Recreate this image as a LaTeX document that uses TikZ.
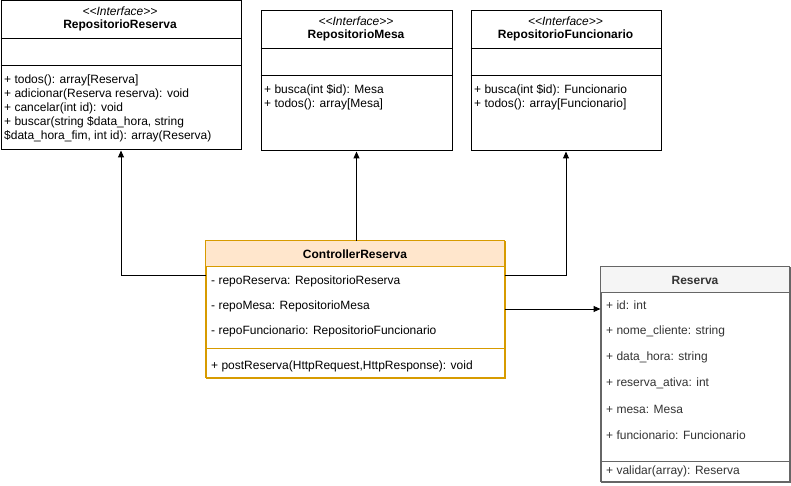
\documentclass[tikz,border=0pt]{standalone}
\usepackage{fontspec}
\setmainfont{Liberation Sans}
\usetikzlibrary{arrows.meta}
\definecolor{ctrlfill}{HTML}{FFE6CC}
\definecolor{ctrldraw}{HTML}{D79B00}
\definecolor{resfill}{HTML}{F5F5F5}
\definecolor{resdraw}{HTML}{666666}
\definecolor{restext}{HTML}{333333}
\tikzset{
  umlbox/.style={draw=black, line width=1pt, anchor=north west, inner sep=0pt, fill=white},
  member/.style={anchor=west, inner sep=0pt, font=\fontsize{12}{14.2}\selectfont, align=left},
  title/.style={anchor=center, inner sep=0pt, font=\bfseries\fontsize{12}{14}\selectfont},
  stereo/.style={anchor=center, inner sep=0pt, font=\itshape\fontsize{12}{14}\selectfont},
  divider/.style={line width=1pt},
  arr/.style={line width=1pt, -{Triangle[length=7pt,width=6pt]}},
}
\begin{document}
\begin{tikzpicture}[x=1pt,y=-1pt]
\useasboundingbox (0,0) rectangle (791,486);
\fill[white] (0,0) rectangle (791,486);

% RepositorioReserva
\node[umlbox, minimum width=240pt, minimum height=149pt] (rr) at (0.5,0.5) {};
\draw[divider] (0.5,39) -- (240.5,39);
\draw[divider] (0.5,66) -- (240.5,66);
\node[stereo] (rrs) at (120,11) {<\kern0pt<Interface>\kern0pt>};
\node[title] (rrt) at (120,25) {RepositorioReserva};
\node[member] (rrm1) at (4,80) {+ todos(): array[Reserva]};
\node[member] (rrm2) at (4,94.2) {+ adicionar(Reserva reserva): void};
\node[member] (rrm3) at (4,108.4) {+ cancelar(int id): void};
\node[member] (rrm4) at (4,122.6) {+ buscar(string \$data\_hora, string};
\node[member] (rrm5) at (4,136.8) {\$data\_hora\_fim, int id): array(Reserva)};

% RepositorioMesa
\node[umlbox, minimum width=191pt, minimum height=140pt] (rm) at (260.5,10.5) {};
\draw[divider] (260.5,49) -- (451.5,49);
\draw[divider] (260.5,76) -- (451.5,76);
\node[stereo] (rms) at (356,21) {<\kern0pt<Interface>\kern0pt>};
\node[title] (rmt) at (356,35) {RepositorioMesa};
\node[member] (rmm1) at (264,90) {+ busca(int \$id): Mesa};
\node[member] (rmm2) at (264,104.2) {+ todos(): array[Mesa]};

% RepositorioFuncionario
\node[umlbox, minimum width=190pt, minimum height=140pt] (rf) at (470.5,10.5) {};
\draw[divider] (470.5,49) -- (660.5,49);
\draw[divider] (470.5,76) -- (660.5,76);
\node[stereo] (rfs) at (565.5,21) {<\kern0pt<Interface>\kern0pt>};
\node[title] (rft) at (565.5,35) {RepositorioFuncionario};
\node[member] (rfm1) at (474,90) {+ busca(int \$id): Funcionario};
\node[member] (rfm2) at (474,104.2) {+ todos(): array[Funcionario]};

% ControllerReserva
\node[umlbox, draw=ctrldraw, minimum width=299pt, minimum height=137pt] (ctrl) at (205.5,240.5) {};
\fill[ctrlfill] (205.5,240.5) rectangle (504.5,266);
\draw[ctrldraw, line width=1pt] (205.5,240.5) rectangle (504.5,377.5);
\draw[divider, ctrldraw] (205.5,266) -- (504.5,266);
\draw[divider, ctrldraw] (205.5,348) -- (504.5,348);
\node[title] (ctt) at (355,254) {ControllerReserva};
\node[member] (cta1) at (211,281) {- repoReserva: RepositorioReserva};
\node[member] (cta2) at (211,306) {- repoMesa: RepositorioMesa};
\node[member] (cta3) at (211,331) {- repoFuncionario: RepositorioFuncionario};
\node[member] (ctm1) at (211,366) {+ postReserva(HttpRequest,HttpResponse): void};

% Reserva
\node[umlbox, draw=resdraw, minimum width=189pt, minimum height=215pt] (res) at (600.5,266.5) {};
\fill[resfill] (600.5,266.5) rectangle (789.5,292);
\draw[resdraw, line width=1pt] (600.5,266.5) rectangle (789.5,481.5);
\draw[divider, resdraw] (600.5,292) -- (789.5,292);
\draw[divider, resdraw] (600.5,461) -- (789.5,461);
\node[title, text=restext] (rest) at (695,280) {Reserva};
\begin{scope}[every node/.append style={text=restext}]
\node[member] (resa1) at (606,305) {+ id: int};
\node[member] (resa2) at (606,331) {+ nome\_cliente: string};
\node[member] (resa3) at (606,357) {+ data\_hora: string};
\node[member] (resa4) at (606,383) {+ reserva\_ativa: int};
\node[member] (resa5) at (606,409) {+ mesa: Mesa};
\node[member] (resa6) at (606,435) {+ funcionario: Funcionario};
\node[member] (resm1) at (606,471) {+ validar(array): Reserva};
\end{scope}

% connectors
\coordinate (cl) at (205.5,275);
\coordinate (cr) at (504.5,275);
\coordinate (cres) at (504.5,309);
\draw[arr] (cl) -| (rr.south);
\draw[arr] (ctrl.north -| rm.south) -- (rm.south);
\draw[arr] (cr) -| (rf.south);
\draw[arr] (cres) -- (res.west |- cres);
\end{tikzpicture}
\end{document}
